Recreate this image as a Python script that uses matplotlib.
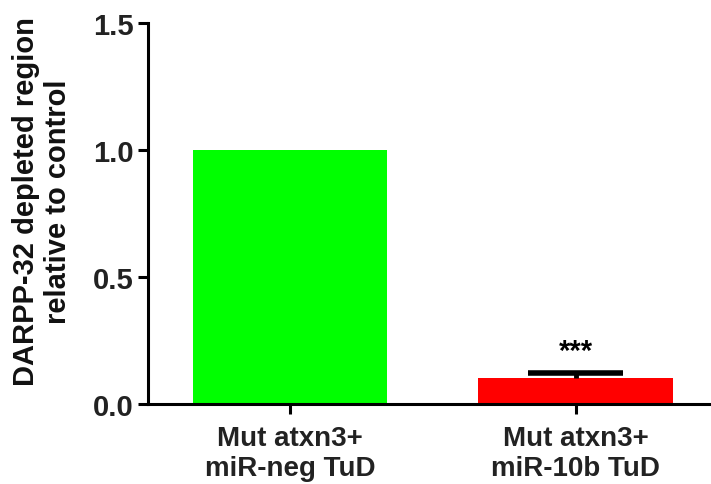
import matplotlib
matplotlib.use("Agg")
import matplotlib.pyplot as plt

# data
groups = ["Mut atxn3+\nmiR-neg TuD", "Mut atxn3+\nmiR-10b TuD"]
values = [1.0, 0.102]
errors = [0.0, 0.022]
colors = ["#00ff00", "#ff0000"]
stars = ["", "***"]

plt.rcParams["font.family"] = ["Liberation Sans", "DejaVu Sans"]
plt.rcParams["font.weight"] = "bold"

fig = plt.figure(figsize=(7.11, 4.85), dpi=100)
ax = fig.add_axes([0.208, 0.165, 0.79, 0.785])

x = range(len(groups))
ax.bar(x, values, width=0.68, color=colors, zorder=2)
for i in x:
    if errors[i] > 0:
        top = values[i] + errors[i]
        # upper error bar only (stem + cap)
        ax.vlines(i, values[i], top, color="black", lw=3.5, zorder=3)
        ax.hlines(top, i - 0.165, i + 0.165, color="black", lw=4, zorder=3)
    if stars[i]:
        ax.text(i, values[i] + errors[i] + 0.03, stars[i], ha="center", va="bottom",
                fontsize=21, fontweight="bold")

ax.set_xlim(-0.4965, 1.4685)
ax.set_ylim(0, 1.5)
ax.set_yticks([0.0, 0.5, 1.0, 1.5])
ax.set_yticklabels(["0.0", "0.5", "1.0", "1.5"])
ax.set_xticks(list(x))
ax.set_xticklabels(groups)
ax.spines["top"].set_visible(False)
ax.spines["right"].set_visible(False)
ax.spines["left"].set_linewidth(2.2)
ax.spines["bottom"].set_linewidth(2.2)
ax.tick_params(axis="y", width=2.2, length=7, labelsize=21, pad=3)
ax.tick_params(axis="x", width=2.2, length=7, labelsize=20, pad=8)
ax.tick_params(colors="black", which="both", labelcolor="#222222")
ax.set_ylabel("DARPP-32 depleted region\nrelative to control", fontsize=21,
              fontweight="bold", color="#111111")
ax.yaxis.set_label_coords(-0.135, 0.535)

fig.savefig("out.png", dpi=100)
